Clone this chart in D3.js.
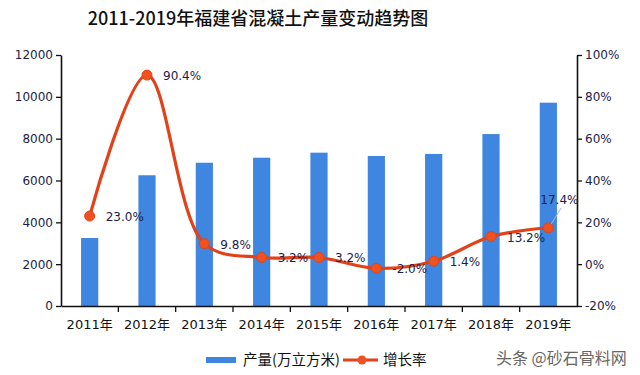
<!DOCTYPE html>
<html>
<head>
<meta charset="utf-8">
<script src="https://cdn.jsdelivr.net/npm/d3@7"></script>
<style>
  body { margin: 0; background: #fff; }
  text { font-family: "DejaVu Sans", Verdana, sans-serif; }
</style>
</head>
<body>
<svg id="chart" width="640" height="375"></svg>
<script>
const years = ["2011年", "2012年", "2013年", "2014年", "2015年", "2016年", "2017年", "2018年", "2019年"];
const output = [3250, 6250, 6850, 7090, 7330, 7170, 7270, 8220, 9720];
const growth = [23.0, 90.4, 9.8, 3.2, 3.2, -2.0, 1.4, 13.2, 17.4];
const leftTicks = [0, 2000, 4000, 6000, 8000, 10000, 12000];
const rightTicks = [-20, 0, 20, 40, 60, 80, 100];

const svg = d3.select("#chart");
const plotL = 61, plotR = 577, plotT = 55, plotB = 306;
const cjk = "'Noto Sans CJK SC', sans-serif";
const navy = "#1c1c48";

// title
svg.append("text")
  .attr("x", 258).attr("y", 25)
  .attr("text-anchor", "middle")
  .attr("font-size", "18px")
  .attr("font-weight", 500)
  .attr("fill", "#111")
  .style("font-family", cjk)
  .text("2011-2019年福建省混凝土产量变动趋势图");

const x = d3.scaleBand().domain(years).range([plotL, plotR]).padding(0);
const yL = d3.scaleLinear().domain([0, 12000]).range([plotB, plotT]);
const yR = d3.scaleLinear().domain([-20, 100]).range([plotB, plotT]);

// bars
const bw = x.bandwidth() * 0.3;
svg.append("g").selectAll("rect")
  .data(output)
  .enter().append("rect")
  .attr("x", (d, i) => x(years[i]) + x.bandwidth() / 2 - bw / 2)
  .attr("y", d => yL(d))
  .attr("width", bw)
  .attr("height", d => plotB - yL(d))
  .attr("fill", "#3e86e0");

// left axis
const axL = svg.append("g")
  .attr("transform", "translate(" + plotL + ",0)")
  .call(d3.axisLeft(yL).tickValues(leftTicks).tickSize(5).tickSizeOuter(0).tickFormat(d3.format("d")));
// right axis
const axR = svg.append("g")
  .attr("transform", "translate(" + plotR + ",0)")
  .call(d3.axisRight(yR).tickValues(rightTicks).tickSize(5).tickSizeOuter(0).tickFormat(d => d + "%"));
// bottom axis
const axB = svg.append("g")
  .attr("transform", "translate(0," + plotB + ")")
  .call(d3.axisBottom(x).tickSize(0).tickSizeOuter(0));
// category separators on x axis
axB.selectAll(".sep")
  .data(years.slice(1))
  .enter().append("line")
  .attr("x1", d => x(d)).attr("x2", d => x(d))
  .attr("y1", 0).attr("y2", 6)
  .attr("stroke", "#111").attr("stroke-width", 1.3);

[axL, axR, axB].forEach(a => {
  a.select(".domain").attr("stroke", "#111").attr("stroke-width", 1.6);
  a.selectAll(".tick line").attr("stroke", "#111").attr("stroke-width", 1.3);
  a.selectAll("text").attr("font-size", "12px").attr("fill", navy);
});
axB.selectAll("text")
  .attr("y", 23).attr("dy", 0)
  .attr("font-size", "13px").attr("fill", "#111")
  .style("font-family", "'DejaVu Sans', " + cjk);

// growth line
const cx = (d, i) => x(years[i]) + x.bandwidth() / 2;
const line = d3.line()
  .x(cx)
  .y(d => yR(d))
  .curve(d3.curveCatmullRom.alpha(0.5));

svg.append("path")
  .datum(growth)
  .attr("d", line)
  .attr("fill", "none")
  .attr("stroke", "#e2421a")
  .attr("stroke-width", 3.2);

svg.append("g").selectAll("circle")
  .data(growth)
  .enter().append("circle")
  .attr("cx", cx)
  .attr("cy", d => yR(d))
  .attr("r", 5)
  .attr("fill", "#f0521f")
  .attr("stroke", "#e2421a")
  .attr("stroke-width", 1);

// leader line for last label
const last = growth.length - 1;
svg.append("line")
  .attr("x1", cx(growth[last], last) + 3).attr("y1", yR(growth[last]) - 4)
  .attr("x2", cx(growth[last], last) + 13).attr("y2", yR(growth[last]) - 20)
  .attr("stroke", "#9db8e8").attr("stroke-width", 1);

// data labels
svg.append("g").selectAll("text")
  .data(growth)
  .enter().append("text")
  .attr("x", (d, i) => i === last ? cx(d, i) - 8 : cx(d, i) + 16)
  .attr("y", (d, i) => i === last ? yR(d) - 24 : yR(d) + 5)
  .attr("font-size", "12px")
  .attr("fill", navy)
  .text(d => d.toFixed(1) + "%");

// legend
const lg = svg.append("g");
lg.append("rect").attr("x", 206).attr("y", 357).attr("width", 30).attr("height", 6).attr("fill", "#3e86e0");
lg.append("text").attr("x", 243).attr("y", 365).attr("font-size", "14.5px").attr("fill", "#111")
  .style("font-family", cjk).text("产量(万立方米)");
lg.append("line").attr("x1", 343).attr("x2", 378).attr("y1", 360).attr("y2", 360)
  .attr("stroke", "#e2421a").attr("stroke-width", 3);
lg.append("circle").attr("cx", 362).attr("cy", 360).attr("r", 4.5).attr("fill", "#f0521f");
lg.append("text").attr("x", 383).attr("y", 365).attr("font-size", "14.5px").attr("fill", "#111")
  .style("font-family", cjk).text("增长率");

// watermark
svg.append("text").attr("x", 496).attr("y", 364).attr("font-size", "16px").attr("fill", "#666")
  .style("font-family", cjk).text("头条 @砂石骨料网");
</script>
</body>
</html>
